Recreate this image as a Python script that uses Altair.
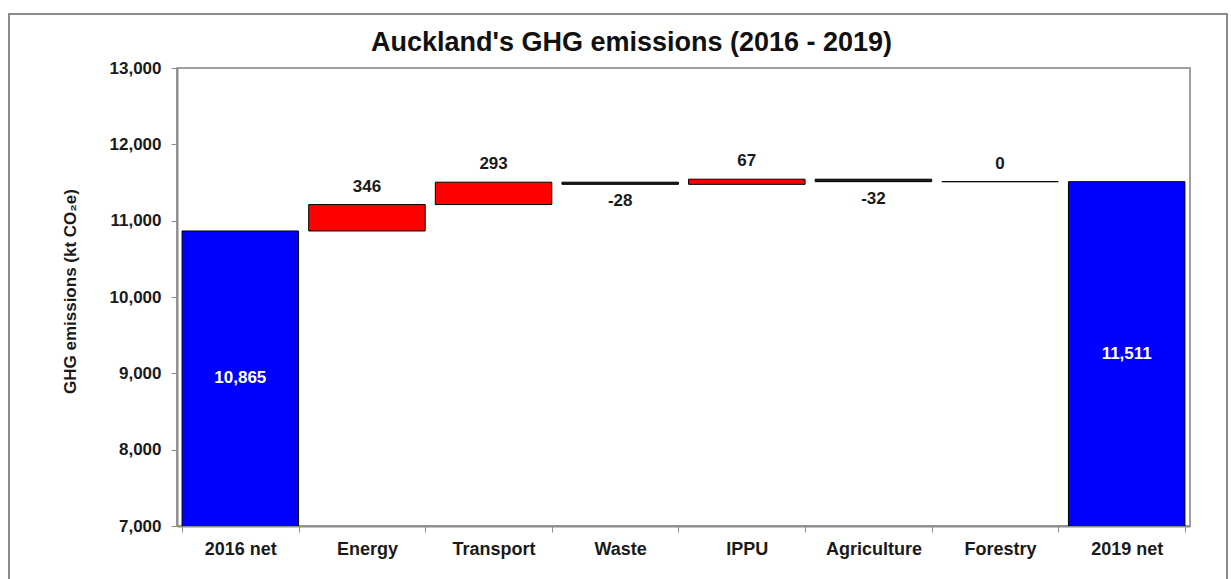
import altair as alt
import pandas as pd

# Waterfall of Auckland's net GHG emissions, 2016 to 2019 (kt CO2e)
categories = ["2016 net", "Energy", "Transport", "Waste", "IPPU", "Agriculture", "Forestry", "2019 net"]
start_total = 10865
sector_changes = [346, 293, -28, 67, -32, 0]
end_total = 11511

y_min, y_max = 7000, 13000
y_ticks = [7000, 8000, 9000, 10000, 11000, 12000, 13000]

kind_names = ["total", "up", "down", "flat"]
kind_colors = ["#0000ff", "#ff0000", "#1a1a1a", "#1a1a1a"]

rows = [dict(category=categories[0], lo=0, hi=start_total, kind="total",
             label=f"{start_total:,}", label_y=(y_min + start_total) / 2)]
level = start_total
for cat, ch in zip(categories[1:-1], sector_changes):
    new = level + ch
    kind = "up" if ch > 0 else ("down" if ch < 0 else "flat")
    rows.append(dict(category=cat, lo=level, hi=new, kind=kind, label=str(ch),
                     label_y=max(level, new) if ch >= 0 else min(level, new)))
    level = new
rows.append(dict(category=categories[-1], lo=0, hi=end_total, kind="total",
                 label=f"{end_total:,}", label_y=(y_min + end_total) / 2))
df = pd.DataFrame(rows)

FONT = "Liberation Sans"

x_enc = alt.X(
    "category:N", sort=categories,
    scale=alt.Scale(paddingInner=0.08, paddingOuter=0.04),
    axis=alt.Axis(title=None, labelAngle=0, tickBand="extent", tickSize=6,
                  labelPadding=8, labelFontSize=18, domainWidth=2),
)
y_scale = alt.Scale(domain=[y_min, y_max], nice=False, zero=False)
y_axis = alt.Axis(
    values=y_ticks, format=",.0f", tickSize=6, labelPadding=10, labelFontSize=17,
    title="GHG emissions (kt CO₂e)", titleFontSize=17, titleFontWeight="bold",
    titleFont=FONT, titleColor="#1a1a1a", titleAngle=270, titleX=-107, titleY=223,
    titleAlign="center", titleBaseline="middle", domainWidth=2,
)

base = alt.Chart(df)

bars = base.mark_bar(stroke="black", strokeWidth=1, clip=True).encode(
    x=x_enc,
    y=alt.Y("lo:Q", scale=y_scale, axis=y_axis),
    y2="hi:Q",
    color=alt.Color("kind:N", scale=alt.Scale(domain=kind_names, range=kind_colors), legend=None),
)

text_style = dict(font=FONT, fontWeight="bold", fontSize=17, baseline="middle", align="center")
label_x = x_enc
label_y = alt.Y("label_y:Q", scale=y_scale, axis=y_axis)

total_labels = base.transform_filter(alt.datum.kind == "total").mark_text(
    color="white", **text_style
).encode(x=label_x, y=label_y, text="label:N")

above_labels = base.transform_filter(
    (alt.datum.kind == "up") | (alt.datum.kind == "flat")
).mark_text(color="#1a1a1a", dy=-18, **text_style).encode(x=label_x, y=label_y, text="label:N")

below_labels = base.transform_filter(alt.datum.kind == "down").mark_text(
    color="#1a1a1a", dy=17, **text_style
).encode(x=label_x, y=label_y, text="label:N")

# Outer chart frame
frame = alt.Chart(pd.DataFrame({"f": [0]})).mark_rect(
    fill=None, stroke="#8c8c8c", strokeWidth=2
).encode(
    x=alt.value(-168), x2=alt.value(1050), y=alt.value(-54), y2=alt.value(600)
)

chart = alt.layer(frame, bars, total_labels, above_labels, below_labels).properties(
    width=1013,
    height=458,
    autosize=alt.AutoSizeParams(type="none"),
    padding={"left": 177, "top": 68, "right": 41, "bottom": 53},
    background="white",
    title=alt.Title(
        "Auckland's GHG emissions (2016 - 2019)",
        font=FONT, fontSize=27, fontWeight="bold", color="#111111",
        anchor="middle", dx=-52, dy=48, offset=4,
    ),
).configure_view(
    stroke="#a0a0a0", strokeWidth=2
).configure_axis(
    grid=False, labelFont=FONT, labelFontWeight="bold", labelColor="#1a1a1a",
    domainColor="#8c8c8c", tickColor="#8c8c8c",
)

chart.save("out.html", embed_options={"renderer": "svg", "actions": False})
